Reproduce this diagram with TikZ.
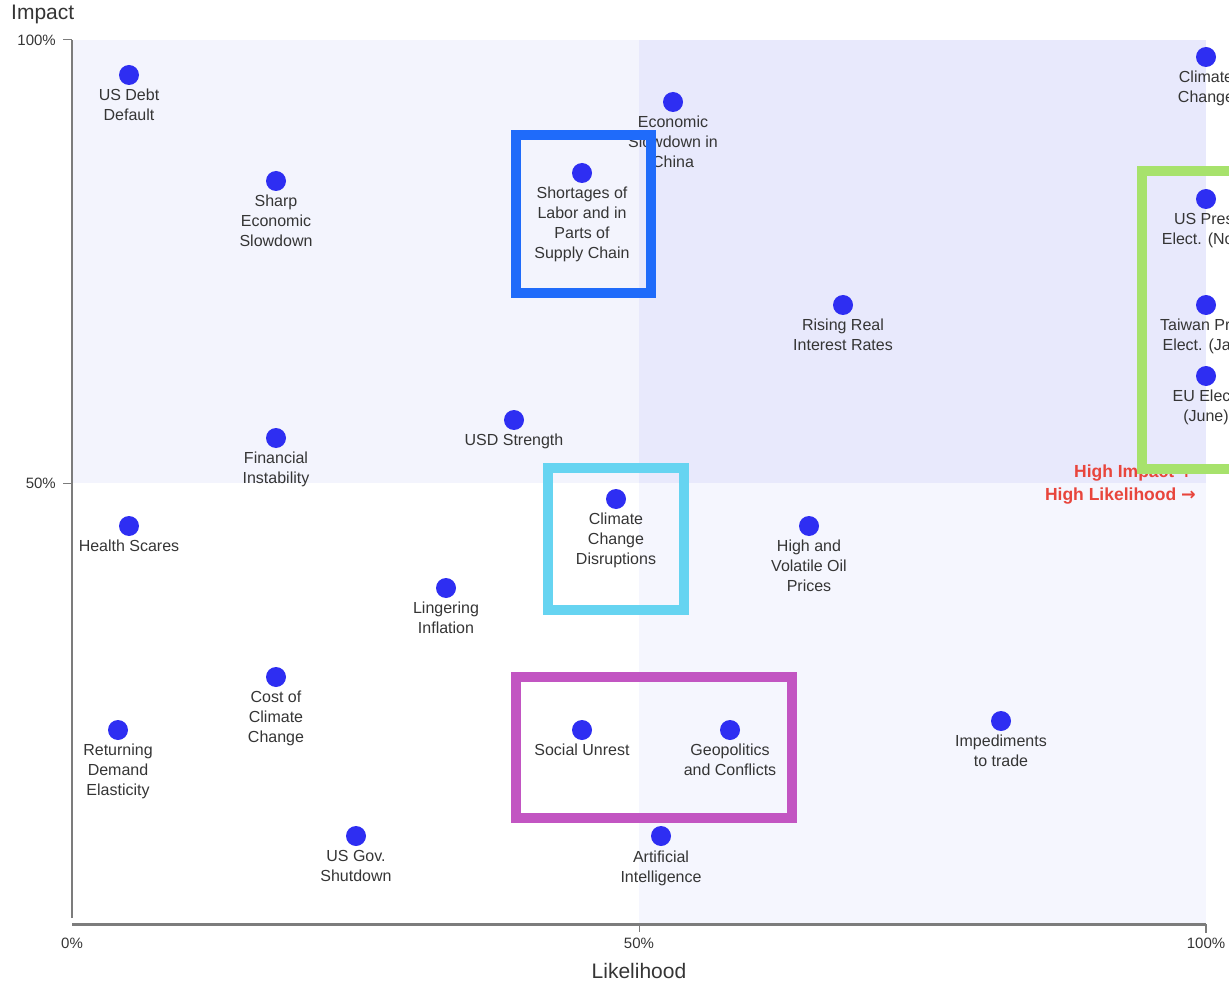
\documentclass[tikz,border=0pt]{standalone}
\usepackage{fontspec}
\setmainfont{Liberation Sans}
\newfontfamily\arrowfont{DejaVu Sans}
\usetikzlibrary{positioning}

\definecolor{dotblue}{HTML}{2E2EF2}
\definecolor{labelgray}{HTML}{353535}
\definecolor{axisgray}{HTML}{7C7C7C}
\definecolor{quadTL}{HTML}{F3F4FD}
\definecolor{quadTR}{HTML}{E8E9FC}
\definecolor{quadBR}{HTML}{F5F6FE}
\definecolor{hired}{HTML}{E8453C}
\definecolor{boxblue}{HTML}{1F6BFA}
\definecolor{boxcyan}{HTML}{66D4F1}
\definecolor{boxpurple}{HTML}{C255C2}
\definecolor{boxgreen}{HTML}{A7E26C}

\tikzstyle{risk} = [circle, fill=dotblue, minimum size=20pt, inner sep=0pt]
\tikzstyle{lbl} = [align=center, text=labelgray, inner sep=0pt,
    font=\fontsize{16}{20}\selectfont]
\tikzstyle{ticklbl} = [text=labelgray, inner sep=0pt, font=\fontsize{15}{17}\selectfont]
\tikzstyle{axistitle} = [text=labelgray, inner sep=0pt, font=\fontsize{21}{24}\selectfont]
\tikzstyle{hilite} = [line width=10pt]
\tikzstyle{axis} = [draw=axisgray, line width=2pt]
\tikzstyle{corner} = [text=hired, inner sep=0pt, font=\bfseries\fontsize{17.5}{20}\selectfont]

\begin{document}
\begin{tikzpicture}[x=1pt, y=-1pt, node distance=4pt]
    \clip (0,0) rectangle (1229,984);
    % quadrants
    \fill[quadTL] (72,40) rectangle (639,483);
    \fill[quadTR] (639,40) rectangle (1206,483);
    \fill[quadBR] (639,483) rectangle (1206,924);
    % axes
    \coordinate (origin) at (72,924);
    \coordinate (ytop) at (72,40);
    \coordinate (ymid) at (72,483);
    \coordinate (xmid) at (639,924);
    \coordinate (xend) at (1206,924);
    \draw [axis] ([yshift=6pt]origin) -- (ytop);
    \draw [axis, line width=3pt] (origin) -- (xend);
    \draw [axis, line width=1pt] ([xshift=-9pt]ytop) -- (ytop);
    \draw [axis, line width=1pt] ([xshift=-9pt]ymid) -- (ymid);
    \draw [axis, line width=1pt] (xmid) -- ([yshift=-8pt]xmid);
    \draw [axis, line width=1.5pt] (xend) -- ([yshift=-9pt]xend);
    \node [ticklbl, anchor=east] at (56,40) {100\%};
    \node [ticklbl, anchor=east] at (56,483) {50\%};
    \node [ticklbl] at (72,943) {0\%};
    \node [ticklbl] at (639,943) {50\%};
    \node [ticklbl] at (1206,943) {100\%};
    \node [axistitle, anchor=west] (impact) at (11,14) {Impact};
    \node [axistitle] (likelihood) at (639,971) {Likelihood};
    \node [corner, anchor=east] (hiimpact) at (1194,473) {High Impact {\arrowfont ↑}};
    \node [corner, anchor=east] (hilikely) at (1196,496) {High Likelihood {\arrowfont →}};

    % risks
    \node [risk] (usdebt) at (129,75) {};
    \node [lbl, below=of usdebt] {US Debt\\Default};
    \node [risk] (sharp) at (276,181) {};
    \node [lbl, below=of sharp] {Sharp\\Economic\\Slowdown};
    \node [risk] (shortage) at (582,173) {};
    \node [lbl, below=of shortage] {Shortages of\\Labor and in\\Parts of\\Supply Chain};
    \node [risk] (china) at (673,102) {};
    \node [lbl, below=of china] {Economic\\Slowdown in\\China};
    \node [risk] (climate) at (1206,57) {};
    \node [lbl, below=of climate] {Climate\\Change};
    \node [risk] (uspres) at (1206,199) {};
    \node [lbl, below=of uspres] {US Pres.\\Elect. (Nov.)};
    \node [risk] (rates) at (843,305) {};
    \node [lbl, below=of rates] {Rising Real\\Interest Rates};
    \node [risk] (taiwan) at (1206,305) {};
    \node [lbl, below=of taiwan] {Taiwan Pres.\\Elect. (Jan.)};
    \node [risk] (eu) at (1206,376) {};
    \node [lbl, below=of eu] {EU Elect.\\(June)};
    \node [risk] (usd) at (514,420) {};
    \node [lbl, below=of usd] {USD Strength};
    \node [risk] (finance) at (276,438) {};
    \node [lbl, below=of finance] {Financial\\Instability};
    \node [risk] (health) at (129,526) {};
    \node [lbl, below=of health] {Health Scares};
    \node [risk] (disrupt) at (616,499) {};
    \node [lbl, below=of disrupt] {Climate\\Change\\Disruptions};
    \node [risk] (oil) at (809,526) {};
    \node [lbl, below=of oil] {High and\\Volatile Oil\\Prices};
    \node [risk] (inflation) at (446,588) {};
    \node [lbl, below=of inflation] {Lingering\\Inflation};
    \node [risk] (climcost) at (276,677) {};
    \node [lbl, below=of climcost] {Cost of\\Climate\\Change};
    \node [risk] (demand) at (118,730) {};
    \node [lbl, below=of demand] {Returning\\Demand\\Elasticity};
    \node [risk] (unrest) at (582,730) {};
    \node [lbl, below=of unrest] {Social Unrest};
    \node [risk] (geo) at (730,730) {};
    \node [lbl, below=of geo] {Geopolitics\\and Conflicts};
    \node [risk] (trade) at (1001,721) {};
    \node [lbl, below=of trade] {Impediments\\to trade};
    \node [risk] (shutdown) at (356,836) {};
    \node [lbl, below=of shutdown] {US Gov.\\Shutdown};
    \node [risk] (ai) at (661,836) {};
    \node [lbl, below=of ai] {Artificial\\Intelligence};

    % highlight boxes
    \draw [hilite, boxblue] (516,135) rectangle (651,293);
    \draw [hilite, boxcyan] (548,468) rectangle (684,610);
    \draw [hilite, boxpurple] (516,677) rectangle (792,818);
    \draw [hilite, boxgreen] (1141.5,171.5) rectangle (1250,468.5);
\end{tikzpicture}
\end{document}
